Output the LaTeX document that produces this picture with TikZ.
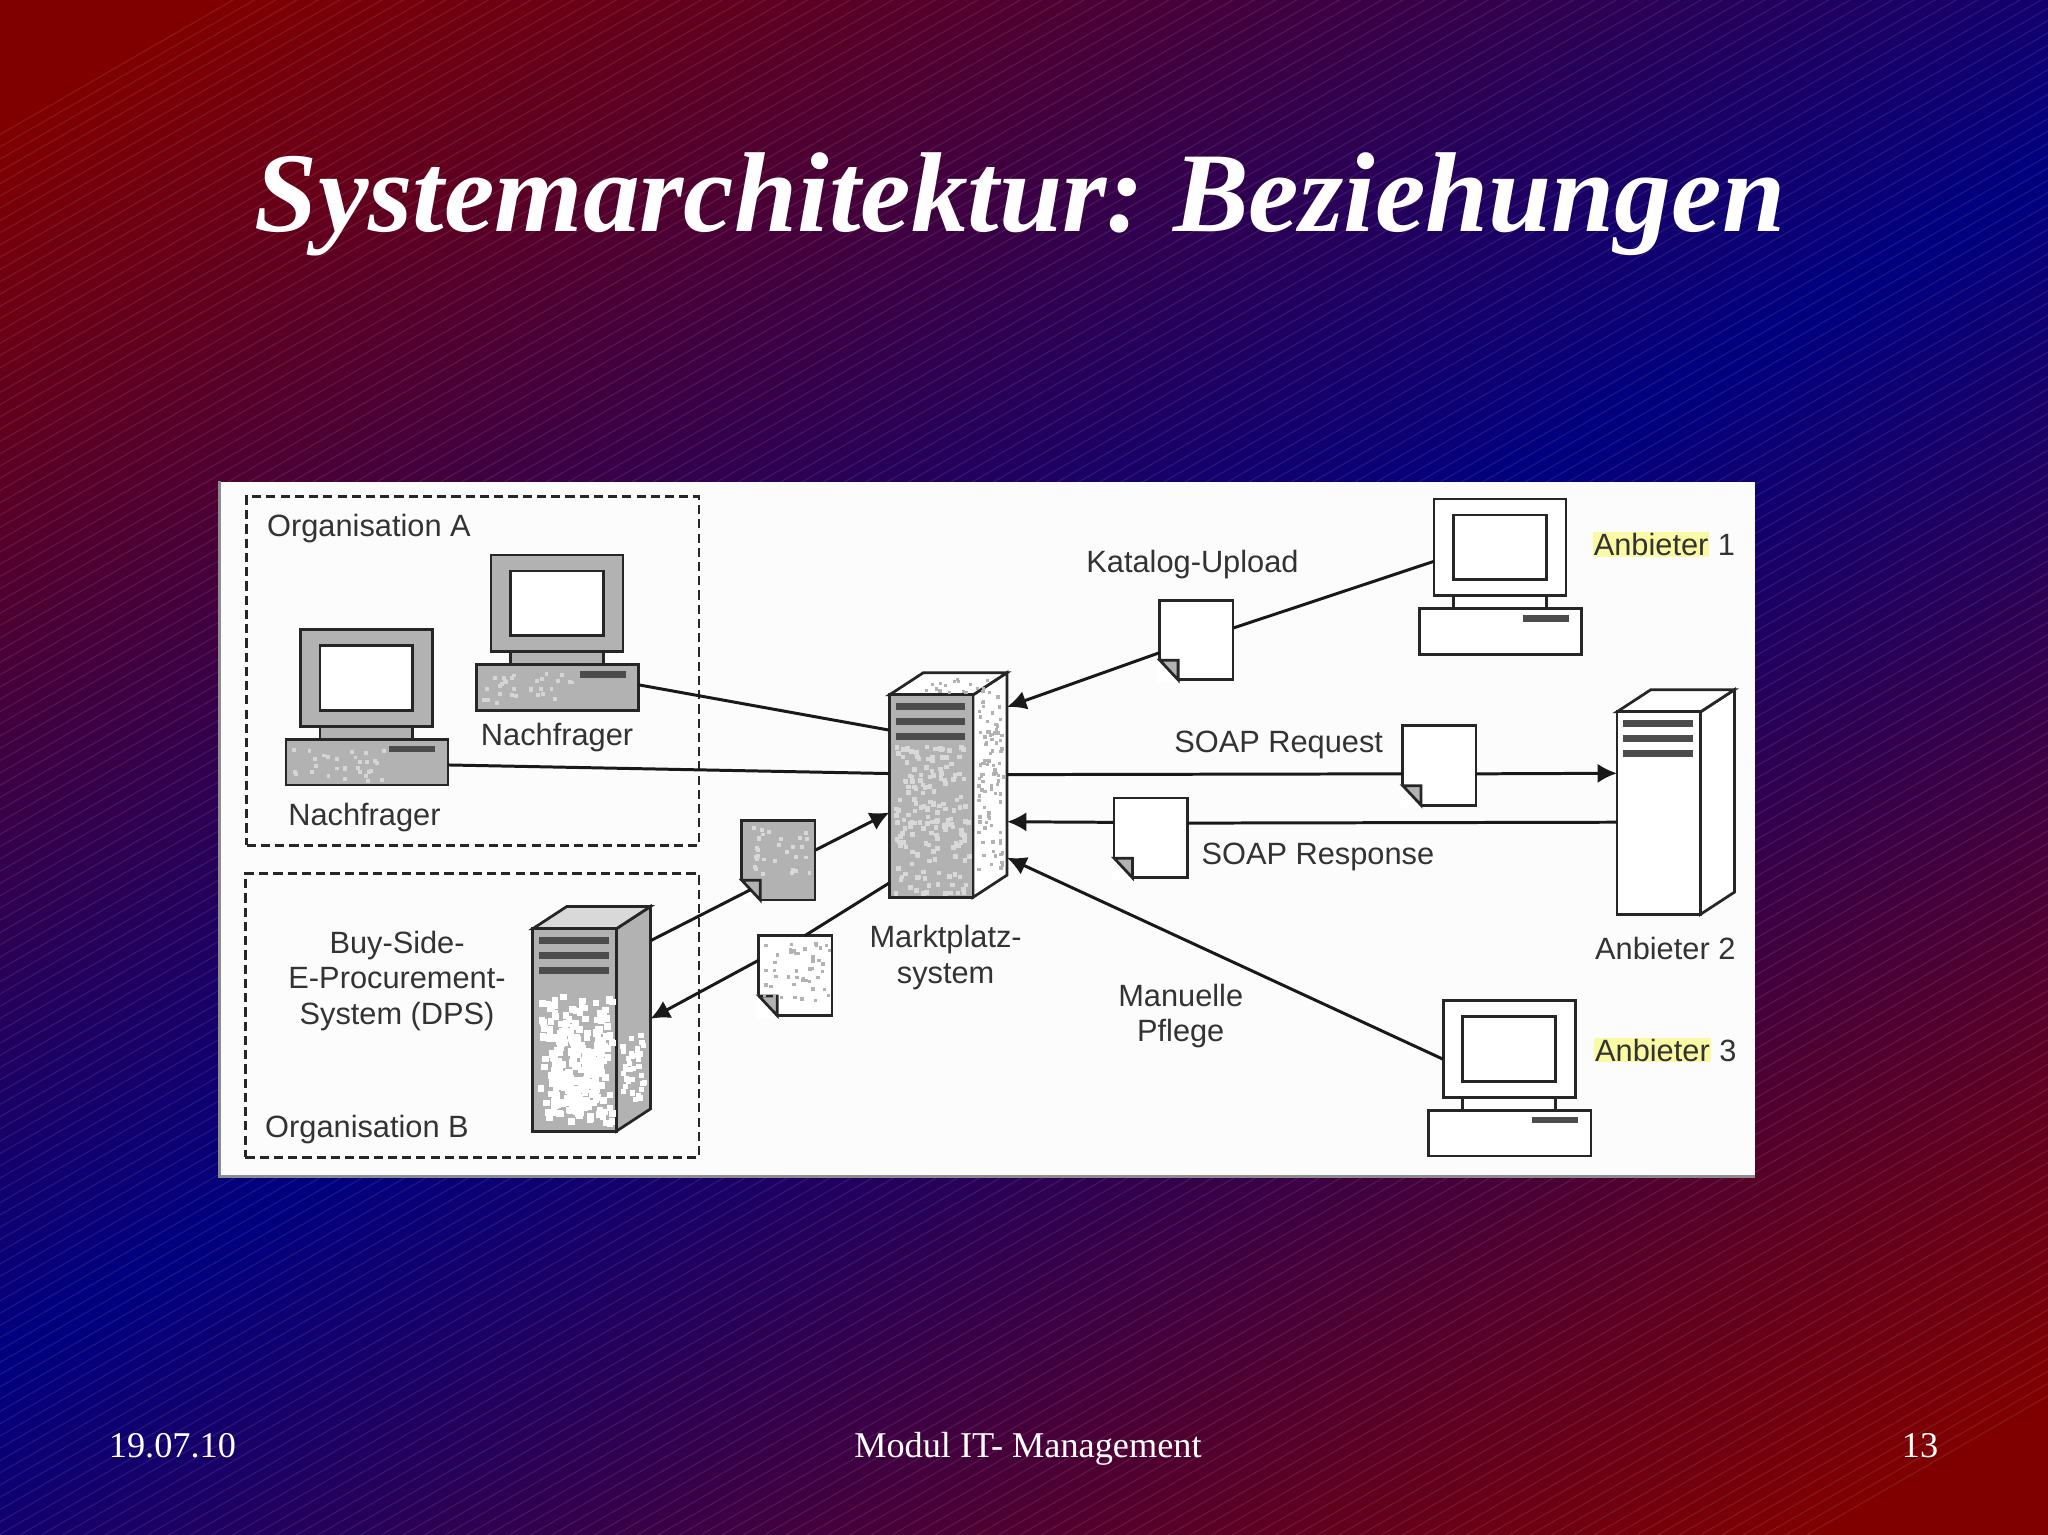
\documentclass[tikz,border=0pt]{standalone}
\usepackage{fontspec}
\setmainfont{Liberation Serif}
\newfontfamily\diagfont{Liberation Sans}
\usetikzlibrary{calc}
\usetikzlibrary{arrows.meta}
\usetikzlibrary{positioning}
\definecolor{hilite}{RGB}{250,250,165}
\definecolor{bodygray}{RGB}{178,178,178}
\setlength{\fboxsep}{0.2pt}
\tikzset{frame/.style={rectangle,draw=black!85,line width=0.6pt,inner sep=0pt,outer sep=0pt}}
\tikzset{lbl/.style={font=\diagfont\fontsize{6.7}{7.7}\selectfont,text=black!80,align=center,inner sep=0pt}}
\tikzset{slide/.style={text=white,inner sep=0pt,anchor=base}}
\tikzset{slot/.style={rectangle,fill=black!70,inner sep=0pt,minimum height=0.05cm}}
\tikzset{orgbox/.style={rectangle,draw=black!85,line width=0.6pt,dash pattern=on 2pt off 1.1pt,inner sep=0pt}}
\tikzset{link/.style={draw=black!90,line width=0.65pt}}
\tikzset{linkto/.style={link,-{Latex[length=4.2pt,width=4.2pt]}}}
% red - blue - red across the 30 degree stripes
\pgfdeclarefunctionalshading{slidebg}{\pgfpoint{0bp}{0bp}}{\pgfpoint{100bp}{100bp}}{}{
  25 sub 50 div 1 exch sub 1175 mul exch
  25 sub 50 div 905 mul add
  1040 sub abs 937 div
  dup 1 gt {pop 1} if
  dup 0.5 mul exch 1 exch sub 0.5 mul 0 exch
}
% name, left, top, monitor fill, base fill
\newcommand{\pcunit}[5]{
    \node[frame,fill=#4,minimum width=1.01cm,minimum height=0.74cm] (#1m) at (#2+50.5,#3+37) {};
    \node[frame,fill=white,minimum width=0.71cm,minimum height=0.495cm] (#1s) at (#1m) {};
    \node[frame,fill=#4,minimum width=0.71cm,minimum height=0.10cm] (#1n) at (#2+50.5,#3+79) {};
    \node[frame,fill=#5,minimum width=1.24cm,minimum height=0.35cm] (#1b) at (#2+51,#3+101.5) {};
    \node[slot,minimum width=0.35cm] (#1k) at (#2+85.5,#3+91.5) {};
}
% name, left, top, front fill, side fill, top fill
\newcommand{\serverbox}[6]{
    \node[inner sep=0pt,outer sep=0pt,minimum width=0.9cm,minimum height=1.72cm] (#1) at (#2+45,#3+69) {};
    \draw[frame,fill=#5] (#2+64,#3) -- ++(26,-17) -- ++(0,155) -- ++(-26,17) -- cycle;
    \draw[frame,fill=#6] (#2,#3) -- ++(26,-17) -- ++(64,0) -- ++(-26,17) -- cycle;
    \node[frame,fill=#4,minimum width=0.64cm,minimum height=1.55cm] (#1f) at (#2+32,#3+77.5) {};
    \foreach \s in {9,20.5,32} {
        \node[slot,minimum width=0.53cm] (#1s\s) at (#2+31.5,#3+\s) {};
    }
}
% name, centre x, centre y, fill
\newcommand{\docpage}[4]{
    \node[frame,fill=#4,minimum width=0.56cm,minimum height=0.61cm] (#1) at (#2,#3) {};
    \fill[white] (#2-30,#3+32.5) -- ++(17,0) -- ++(-17,-19) -- cycle;
    \draw[frame,fill=bodygray] (#2-14,#3+30.5) -- ++(0,-15) -- ++(-14,0) -- cycle;
    \coordinate (#1c) at (#2-21,#3+22.5);
}
\newcommand{\mottle}[7][2.4]{
    \foreach \k in {1,...,#6} {
        \fill[#7] (#2+#4*rnd,#3+#5*rnd) rectangle +(#1,#1);
    }
}
\begin{document}
\begin{tikzpicture}[x=0.01cm,y=-0.01cm]
    \useasboundingbox (0,0) rectangle (1568,1175);
    \shade[shading=slidebg] (0,0) rectangle (1568,1175);
    \begin{scope}
        \clip (0,0) rectangle (1568,1175);
        \foreach \c in {103,112.4,...,1975} {
            \draw[white,opacity=0.09,line width=0.25pt] (0,\c) -- (1568,\c-905);
        }
    \end{scope}

    \node[slide,font=\bfseries\itshape\fontsize{24.73}{28}\selectfont\frenchspacing] (title) at (781,177) {Systemarchitektur: Beziehungen};
    \node[slide,font=\fontsize{7.9}{9}\selectfont] (date) at (132,1116) {19.07.10};
    \node[slide,font=\fontsize{7.9}{9}\selectfont] (modul) at (787,1116) {Modul IT- Management};
    \node[slide,font=\fontsize{7.9}{9}\selectfont] (page) at (1470,1116) {13};

    \node[fill=white!99!black,inner sep=0pt,minimum width=11.74cm,minimum height=5.31cm] (panel) at (756,634.5) {};
    \draw[black!45,line width=0.5pt] (panel.north west) -- (panel.south west) -- (panel.south east);

    \node[orgbox,minimum width=3.46cm,minimum height=2.67cm] (orgA) at (362,513.5) {};
    \node[orgbox,minimum width=3.47cm,minimum height=2.17cm] (orgB) at (361.5,777.5) {};

    \pgfmathsetseed{11}
    \pcunit{pcB}{376}{425}{bodygray}{bodygray}
    \pcunit{pcA}{230}{482}{bodygray}{bodygray}
    \pcunit{pcO}{1098}{382}{white}{white}
    \pcunit{pcT}{1105}{766}{white}{white}
    \mottle[3]{369}{514}{70}{25}{30}{bodygray!55!white}
    \mottle[3]{223}{572}{70}{25}{30}{bodygray!55!white}

    \serverbox{srvM}{681}{532}{bodygray}{white}{white}
    \mottle[3.5]{684}{570}{57}{113}{170}{bodygray!50!white}
    \mottle[2.6]{748}{530}{19}{135}{90}{bodygray}
    \mottle{700}{519}{60}{10}{18}{bodygray}
    \serverbox{srvD}{408}{711}{bodygray}{bodygray}{white!85!black}
    \mottle[5]{411}{760}{56}{98}{170}{white}
    \mottle[6]{420}{785}{38}{65}{90}{white}
    \mottle[4]{475}{790}{17}{50}{35}{white}
    \serverbox{srvA}{1238}{545}{white}{white}{white}

    \docpage{docG}{596}{658.5}{bodygray}
    \mottle[3]{571}{631}{50}{38}{30}{bodygray!50!white}
    \docpage{docS}{609}{747}{white}
    \mottle[2.6]{584}{720}{50}{45}{45}{bodygray}
    \docpage{docK}{916}{490}{white}
    \docpage{docQ}{1102}{586}{white}
    \docpage{docR}{881}{641.5}{white}

    \draw[link] (pcBb.2.3) -- (srvM.137.7);
    \draw[link] (pcAb.-2.3) -- (srvM.169.9);
    \draw[linkto] (docG.15) -- (srvM.205);
    \draw[link] (srvD.53.1) -- (docGc);
    \draw[link] (srvM.239.7) -- (docS.77);
    \draw[linkto] (docS.157) -- (srvD.east);
    \draw[link] (pcOm.192) -- (docK.18);
    \draw[linkto] (docK.199.7) -- (srvM.53.1);
    \draw[link] (srvM.10.1) -- (docQ.193.5);
    \draw[linkto] (docQ.-13.5) -- (srvA.154.7);
    \draw[link] (srvA.199.6) -- (docR.22.3);
    \draw[linkto] (docR.157.7) -- (srvM.-32.8);
    \draw[linkto] (pcTm.189) -- (srvM.-51.2);

    \node[lbl] (orgAl) at (282.5,405) {Organisation A};
    \node[lbl] (orgBl) at (281,865) {Organisation B};
    \node[lbl] (nfB) at (426.5,565) {Nachfrager};
    \node[lbl] (nfA) at (279,626) {Nachfrager};
    \node[lbl] (dps) at (304,751) {Buy-Side-\\E-Procurement-\\System (DPS)};
    \node[lbl] (mplatz) at (724,733) {Marktplatz-\\system};
    \node[lbl] (katalog) at (913,432) {Katalog-Upload};
    \node[lbl] (request) at (979,570) {SOAP Request};
    \node[lbl] (response) at (1009,656) {SOAP Response};
    \node[lbl] (manuell) at (904,778) {Manuelle\\Pflege};
    \node[lbl] (anbO) at (1274,417) {\colorbox{hilite}{Anbieter} 1};
    \node[lbl] (anbA) at (1275,726) {Anbieter 2};
    \node[lbl] (anbT) at (1275,804) {\colorbox{hilite}{Anbieter} 3};
\end{tikzpicture}
\end{document}
